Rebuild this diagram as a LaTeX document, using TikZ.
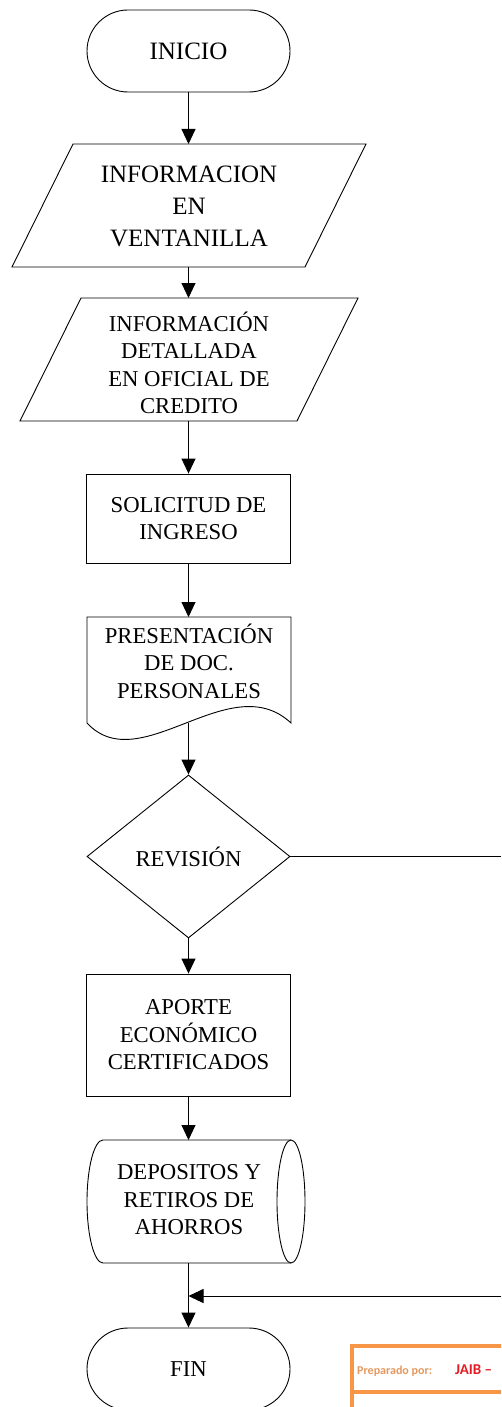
\documentclass[tikz,border=0pt]{standalone}
\usepackage{fontspec}
\setmainfont{Liberation Serif}
\newfontfamily\carlitofont{Carlito}
\usetikzlibrary{arrows.meta,shapes.geometric,shapes.misc}
\definecolor{accor}{HTML}{F79646}
\definecolor{prepor}{HTML}{E4985E}
\definecolor{jaibred}{HTML}{E31C23}
\tikzset{
  shapeline/.style={draw=black,line width=0.9pt},
  txt/.style={align=center,inner sep=0pt,font=\fontsize{22.7}{27.5}\selectfont},
  bigtxt/.style={align=center,inner sep=0pt,font=\fontsize{25}{32}\selectfont},
  term/.style={shapeline,rounded rectangle,minimum width=203pt,minimum height=82pt,inner sep=0pt},
  proc/.style={shapeline,rectangle,minimum width=204pt,inner sep=0pt},
  dec/.style={shapeline,diamond,minimum width=203pt,minimum height=163pt,inner sep=0pt},
  arr/.style={draw=black,line width=0.9pt,-{Triangle[length=15pt,width=14pt]}},
  conn/.style={draw=black,line width=0.9pt},
  orangeline/.style={draw=accor,line width=4pt},
  preptext/.style={anchor=base west,inner sep=0pt,text=prepor,font=\carlitofont\bfseries\fontsize{12}{14}\selectfont},
  jaibtext/.style={anchor=base west,inner sep=0pt,text=jaibred,font=\carlitofont\bfseries\fontsize{15}{18}\selectfont}
}
\begin{document}
\begin{tikzpicture}[x=1pt,y=-1pt]
\useasboundingbox (0,0) rectangle (501,1407);
\clip (0,0) rectangle (501,1407);

% INICIO
\node[term,font=\fontsize{25}{32}\selectfont] (inicio) at (188.5,51) {INICIO};

% Parallelogram 1
\draw[shapeline] (73,144) -- (366,144) -- (305,267) -- (12,267) -- cycle;
\node[bigtxt] (p1) at (189,206) {INFORMACION\\EN\\VENTANILLA};
\coordinate (p1n) at (188.5,144);
\coordinate (p1s) at (188.5,267);

% Parallelogram 2
\draw[shapeline] (81,298) -- (358,298) -- (297,421) -- (20,421) -- cycle;
\node[txt] (p2) at (189,363) {INFORMACIÓN\\DETALLADA\\EN OFICIAL DE\\CREDITO};
\coordinate (p2n) at (188.5,298);
\coordinate (p2s) at (188.5,421);

% Solicitud
\node[proc,txt,minimum height=89pt] (sol) at (188.5,518.5) {SOLICITUD DE\\INGRESO};

% Document
\draw[shapeline] (87,723) -- (87,617) -- (291,617) -- (291,723)
  .. controls (230,666) and (140,780) .. (87,723) -- cycle;
\node[txt] (doc) at (189,661) {PRESENTACIÓN\\DE DOC.\\PERSONALES};
\coordinate (docn) at (188.5,617);
\coordinate (docs) at (188.5,723);

% Decision
\node[dec,txt] (rev) at (188.5,856.5) {REVISIÓN};

% Aporte
\node[proc,txt,minimum height=122pt] (apo) at (188.5,1035) {APORTE\\ECONÓMICO\\CERTIFICADOS};

% Stored data
\draw[shapeline] (103,1140) -- (291,1140)
  .. controls (298.7,1140) and (305,1167.5) .. (305,1201.5)
  .. controls (305,1235.5) and (298.7,1263) .. (291,1263)
  -- (103,1263)
  .. controls (94.2,1263) and (87,1235.5) .. (87,1201.5)
  .. controls (87,1167.5) and (94.2,1140) .. (103,1140) -- cycle;
\draw[shapeline] (291,1140)
  .. controls (283.3,1140) and (277,1167.5) .. (277,1201.5)
  .. controls (277,1235.5) and (283.3,1263) .. (291,1263);
\node[txt] (dep) at (189,1200) {DEPOSITOS Y\\RETIROS DE\\AHORROS};
\coordinate (depn) at (188.5,1140);
\coordinate (deps) at (188.5,1263);

% FIN
\node[term,txt] (fin) at (188.5,1369) {FIN};

% Connectors
\draw[arr] (inicio.south) -- (p1n);
\draw[arr] (p1s) -- (p2n);
\draw[arr] (p2s) -- (sol.north);
\draw[arr] (sol.south) -- (docn);
\draw[arr] (docs) -- (rev.north);
\draw[arr] (rev.south) -- (apo.north);
\draw[arr] (apo.south) -- (depn);
\draw[arr] (deps) -- (fin.north);
\coordinate (revout) at (501,856.5);
\draw[conn] (rev.east) -- (revout);
\coordinate (retin) at (501,1296);
\coordinate (merge) at (188.5,1296);
\draw[arr] (retin) -- (merge);

% Orange table fragment
\draw[orangeline] (352,1420) -- (352,1346) -- (520,1346);
\draw[orangeline] (352,1392) -- (520,1392);
\node[preptext] (prep) at (357,1374) {Preparado por:};
\node[jaibtext] (jaib) at (455,1374) {JAIB –};
\end{tikzpicture}
\end{document}
